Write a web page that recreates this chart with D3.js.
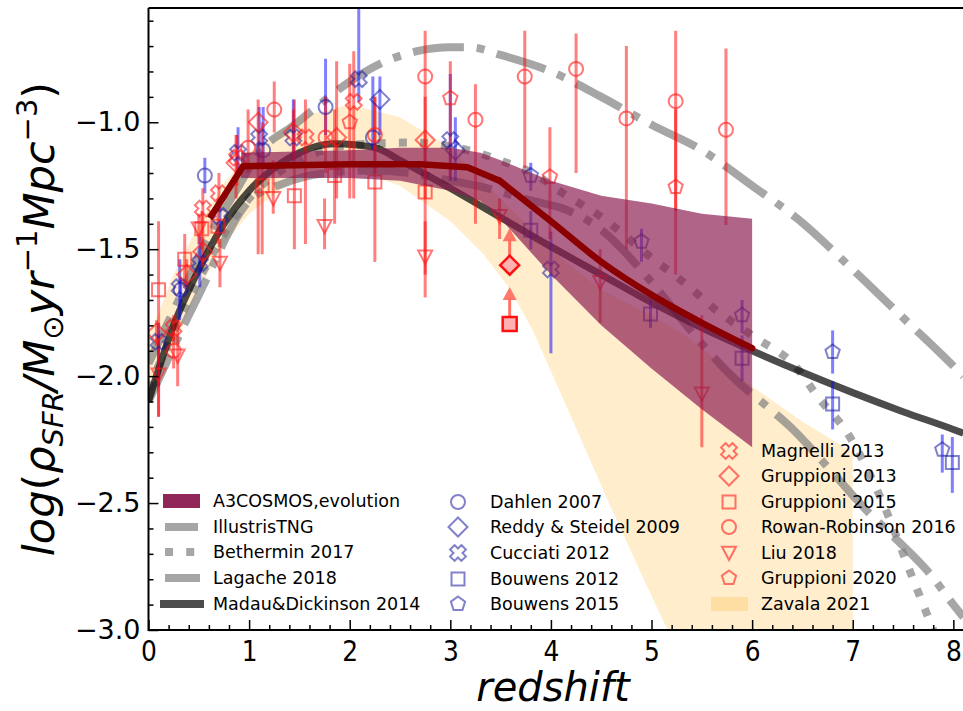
<!DOCTYPE html>
<html><head><meta charset="utf-8">
<script src="https://cdn.jsdelivr.net/npm/d3@7"></script>
<style>body{margin:0;background:#fff}svg{display:block}text{font-family:"DejaVu Sans",sans-serif}</style>
</head><body><svg id="c" width="963" height="711"></svg>
<script>
// ---------------- data ----------------
const xTicks = [0,1,2,3,4,5,6,7,8];
const yTicks = [-3.0,-2.5,-2.0,-1.5,-1.0];

// Zavala 2021 band
const zavHighZ = [0,0.25,0.5,0.75,1.0,1.5,2.0,2.5,3.0,3.5,4.0,4.5,5.0,5.3,6.0,6.5,7.0];
const zavHigh  = [-1.85,-1.6,-1.4,-1.24,-1.12,-0.98,-0.93,-0.98,-1.1,-1.3,-1.5,-1.66,-1.76,-1.83,-2.04,-2.18,-2.3];
const zavLowZ  = [0,0.25,0.5,0.75,1.0,1.5,2.0,2.5,3.0,3.33,3.6,3.82,4.1,4.3,4.6,4.9,5.16,5.4];
const zavLow   = [-2.12,-1.88,-1.66,-1.48,-1.36,-1.21,-1.18,-1.25,-1.39,-1.52,-1.66,-1.82,-2.07,-2.25,-2.52,-2.78,-3.0,-3.2];

// A3COSMOS band + line
const a3Z    = [0.92,2.0,2.5,3.0,3.3,3.5,4.0,4.5,5.0,5.5,6.0];
const a3High = [-1.12,-1.11,-1.10,-1.10,-1.12,-1.15,-1.23,-1.29,-1.32,-1.36,-1.38];
const a3Low  = [-1.22,-1.22,-1.23,-1.27,-1.31,-1.38,-1.6,-1.8,-1.97,-2.13,-2.28];
const a3LineZ = [0.61,0.94,2.0,2.7,3.17,3.49];
const a3LineV = [-1.378,-1.173,-1.165,-1.165,-1.177,-1.23];
const a3TailZ = [3.49,4.0,4.5,5.0,5.5,6.0];
const a3TailV = [-1.23,-1.39,-1.55,-1.68,-1.79,-1.89];

// model curves
const mdZ = [0,0.25,0.5,0.75,1,1.25,1.5,1.85,2.25,2.5,3,3.5,4,4.5,5,5.5,6,6.5,7,7.5,8,8.1];
const mdV = [-2.1,-1.8,-1.58,-1.40,-1.27,-1.18,-1.12,-1.085,-1.10,-1.15,-1.26,-1.375,-1.49,-1.6,-1.71,-1.81,-1.90,-1.985,-2.065,-2.14,-2.21,-2.225];
const tngZ = [0,0.5,1.0,1.35,1.77,2.2,2.6,3.0,3.26,3.82,4.12,4.49,5.0,5.45,5.85,6.15,6.38,6.8,7.14,7.4,7.77,8.0,8.1];
const tngV = [-2.1,-1.68,-1.31,-1.24,-1.2,-1.19,-1.2,-1.23,-1.25,-1.31,-1.34,-1.42,-1.63,-1.85,-2.02,-2.12,-2.2,-2.38,-2.53,-2.63,-2.78,-2.9,-2.95];
const betZ = [0,0.5,1.0,1.5,2.0,2.6,3.27,3.56,3.82,4.12,4.49,5.02,5.38,5.61,6.0,6.45,6.65,6.94,7.3,7.6,7.75,7.85];
const betV = [-2.05,-1.62,-1.3,-1.15,-1.09,-1.08,-1.12,-1.16,-1.2,-1.28,-1.37,-1.54,-1.65,-1.73,-1.84,-1.97,-2.08,-2.22,-2.5,-2.8,-2.95,-3.05];
const lagZ = [0,0.3,0.6,0.9,1.1,1.45,1.7,2.0,2.3,2.67,3.0,3.2,3.5,4.0,4.5,5.0,5.5,6.0,6.45,7.0,7.5,8.0,8.1];
const lagV = [-1.95,-1.7,-1.45,-1.25,-1.12,-1.01,-0.93,-0.84,-0.77,-0.72,-0.705,-0.705,-0.735,-0.80,-0.90,-1.01,-1.11,-1.25,-1.38,-1.58,-1.77,-1.96,-2.0];

// observations [z, value, lower, upper]
const dahlen07 = [[0.32,-1.66,-1.71,-1.61],[0.56,-1.21,-1.28,-1.14],[1.14,-1.11,-1.18,-0.94],[1.76,-0.94,-1.05,-0.75],[2.23,-1.06,-1.11,-0.82]];
const reddy09 = [[2.3,-0.91,-1.05,-0.82],[3.05,-1.11,-1.23,-0.98]];
const cucciati12 = [[0.1,-1.865,-2.04,-1.79],[0.31,-1.65,-1.78,-1.54],[0.51,-1.555,-1.65,-1.45],[0.71,-1.37,-1.44,-1.3],[0.89,-1.12,-1.2,-1.02],[1.1,-1.06,-1.18,-0.94],[1.44,-1.06,-1.18,-0.91],[2.09,-0.83,-0.92,-0.5],[3.0,-1.07,-1.23,-0.81],[4.0,-1.58,-1.91,-1.43]];
const bouwens12 = [[3.8,-1.425,-1.5,-1.35],[4.99,-1.755,-1.81,-1.70],[5.9,-1.93,-2.02,-1.84],[6.8,-2.11,-2.21,-2.02],[7.99,-2.34,-2.46,-2.24]];
const bouwens15 = [[3.8,-1.21,-1.27,-1.16],[4.9,-1.47,-1.55,-1.42],[5.9,-1.76,-1.83,-1.7],[6.8,-1.905,-1.99,-1.82],[7.89,-2.29,-2.38,-2.23]];
const magnelli13 = [[0.25,-1.81,-1.86,-1.76],[0.54,-1.34,-1.44,-1.26],[0.7,-1.28,-1.35,-1.2],[0.88,-1.14,-1.25,-1.05],[1.56,-1.06,-1.48,-0.91],[2.04,-0.92,-1.3,-0.72]];
const gruppioni13 = [[0.08,-1.83,-1.88,-1.78],[0.38,-1.60,-1.66,-1.54],[0.54,-1.51,-1.57,-1.45],[0.87,-1.16,-1.3,-1.05],[1.09,-1.0,-1.52,-0.91],[1.44,-1.04,-1.15,-0.95],[1.87,-1.06,-1.3,-0.76],[2.75,-1.07,-1.3,-0.9]];
const gruppioni15 = [[0.1,-1.66,-2.16,-1.39],[0.36,-1.54,-1.65,-1.44],[0.53,-1.42,-1.5,-1.35],[0.69,-1.41,-1.48,-1.3],[1.13,-1.25,-1.52,-1.0],[1.45,-1.29,-1.5,-0.91],[1.85,-1.21,-1.4,-0.95],[2.25,-1.235,-1.55,-0.9],[2.75,-1.275,-1.6,-1.0]];
const rowan16 = [[0.25,-1.90,-1.97,-1.83],[0.99,-1.10,-1.2,-0.95],[1.25,-0.95,-1.04,-0.84],[1.76,-1.06,-1.2,-0.9],[2.25,-1.05,-1.2,-0.9],[2.75,-0.82,-1.0,-0.64],[3.25,-0.99,-1.4,-0.85],[3.74,-0.82,-1.18,-0.64],[4.25,-0.79,-1.2,-0.65],[4.75,-0.985,-1.5,-0.7],[5.24,-0.917,-1.35,-0.64],[5.74,-1.03,-1.405,-0.71]];
const liu18 = [[0.1,-1.995,-2.16,-1.85],[0.29,-1.92,-2.04,-1.78],[0.5,-1.42,-1.48,-1.36],[0.71,-1.555,-1.65,-1.46],[1.24,-1.30,-1.36,-1.15],[1.75,-1.41,-1.5,-1.3],[2.75,-1.53,-1.69,-1.39],[3.49,-1.37,-1.46,-1.3],[4.49,-1.63,-1.79,-1.5],[5.5,-2.07,-2.28,-1.76]];
const gruppioni20 = [[2.0,-1.0,-1.3,-0.77],[3.0,-0.905,-1.22,-0.76],[3.99,-1.215,-1.46,-1.02],[5.24,-1.255,-1.6,-0.95]];
const lowerLimits = [[3.59,-1.563,"diamond"],[3.59,-1.795,"square"]];

const lineLegend = ["A3COSMOS,evolution","IllustrisTNG","Bethermin 2017","Lagache 2018","Madau&Dickinson 2014"];
const blueLegend = ["Dahlen 2007","Reddy & Steidel 2009","Cucciati 2012","Bouwens 2012","Bouwens 2015"];
const redLegend  = ["Magnelli 2013","Gruppioni 2013","Gruppioni 2015","Rowan-Robinson 2016","Liu 2018","Gruppioni 2020","Zavala 2021"];

// ---------------- drawing ----------------
const svg = d3.select("#c");
const L=148.5, R=963.4, T=8, B=630;
const x = d3.scaleLinear().domain([0,8.1]).range([L,R]);
const y = d3.scaleLinear().domain([-3.0,-0.55]).range([B,T]);

svg.append("defs").append("clipPath").attr("id","clip").append("rect")
  .attr("x",L).attr("y",T).attr("width",R-L).attr("height",B-T);
const plot = svg.append("g").attr("clip-path","url(#clip)");

const zip = (zs,vs)=>zs.map((z,i)=>[z,vs[i]]);
const line = d3.line().x(d=>x(d[0])).y(d=>y(d[1])).curve(d3.curveMonotoneX);
const lineLin = d3.line().x(d=>x(d[0])).y(d=>y(d[1]));

// Zavala band
const zavPoly = zip(zavHighZ,zavHigh).concat([[7.0,-3.3]]).concat(zip(zavLowZ,zavLow).reverse());
plot.append("path").attr("d",lineLin(zavPoly)+"Z").attr("fill","#ffa500").attr("fill-opacity",0.2);

// gray model lines
const gray = (pts,dash)=>plot.append("path").attr("d",line(pts)).attr("fill","none")
  .attr("stroke","#808080").attr("stroke-opacity",0.7).attr("stroke-width",8)
  .attr("stroke-dasharray",dash);
gray(zip(tngZ,tngV),"51.2,12.8,8,12.8");
gray(zip(betZ,betV),"8,13.2");
gray(zip(lagZ,lagV),"51.2,12.8,8,12.8");

// Madau
plot.append("path").attr("d",line(zip(mdZ,mdV))).attr("fill","none")
  .attr("stroke","#000").attr("stroke-opacity",0.7).attr("stroke-width",7);

// symbols
const sym = {
  circle:(r)=>{const p=d3.path();p.arc(0,0,r,0,2*Math.PI);p.closePath();return p.toString();},
  square:(r)=>`M${-r},${-r}H${r}V${r}H${-r}Z`,
  diamond:(r)=>`M0,${-r}L${r},0L0,${r}L${-r},0Z`,
  tri:(r)=>`M0,${r}L${-r},${-r*0.9}L${r},${-r*0.9}Z`,
  pent:(r)=>{const p=d3.path();for(let k=0;k<5;k++){const a=-Math.PI/2+k*2*Math.PI/5;const px=r*Math.cos(a),py=r*Math.sin(a);k?p.lineTo(px,py):p.moveTo(px,py);}p.closePath();return p.toString();},
  xx:(r)=>{const w=r*0.4;const pts=[[-w,-r],[w,-r],[w,-w],[r,-w],[r,w],[w,w],[w,r],[-w,r],[-w,w],[-r,w],[-r,-w],[-w,-w]];
    const c=Math.SQRT1_2;return "M"+pts.map(([a,b])=>[(a-b)*c,(a+b)*c].join(",")).join("L")+"Z";}
};
const symR = {circle:7,square:6.5,diamond:9.5,tri:7,pent:7.5,xx:8};
const blueC="#1a1aa0", redC="#ff1a1a";
const sets = [
  [dahlen07,"circle","b"],[reddy09,"diamond","b"],[cucciati12,"xx","b"],[bouwens12,"square","b"],[bouwens15,"pent","b"],
  [magnelli13,"xx","r"],[gruppioni13,"diamond","r"],[gruppioni15,"square","r"],[rowan16,"circle","r"],[liu18,"tri","r"],[gruppioni20,"pent","r"]
];
const obs = plot.append("g");
sets.forEach(([data,shape,c])=>{
  obs.selectAll(null).data(data).enter().append("line")
    .attr("x1",d=>x(d[0])).attr("x2",d=>x(d[0])).attr("y1",d=>y(d[2])).attr("y2",d=>y(d[3]))
    .attr("stroke",c==="b"?"#0000ff":"#ff0000").attr("stroke-opacity",0.5).attr("stroke-width",3);
});
sets.forEach(([data,shape,c])=>{
  obs.selectAll(null).data(data).enter().append("path")
    .attr("d",sym[shape](symR[shape])).attr("transform",d=>`translate(${x(d[0])},${y(d[1])})`)
    .attr("fill","none").attr("stroke",c==="b"?blueC:redC).attr("stroke-opacity",c==="b"?0.55:0.6).attr("stroke-width",2);
});
// lower limits with arrows
lowerLimits.forEach(([z,v,shape])=>{
  const cx=x(z), cy=y(v);
  obs.append("line").attr("x1",cx).attr("x2",cx).attr("y1",cy-6).attr("y2",cy-26)
    .attr("stroke","#ff5a4a").attr("stroke-opacity",0.85).attr("stroke-width",3);
  obs.append("path").attr("d",`M${cx-7},${cy-24}L${cx},${cy-37}L${cx+7},${cy-24}Z`).attr("fill","#ff6a5a").attr("fill-opacity",0.9);
  obs.append("path").attr("d",sym[shape](shape==="diamond"?9.5:7)).attr("transform",`translate(${cx},${cy})`)
    .attr("fill","#ffb0b0").attr("stroke","#ff1010").attr("stroke-width",2.5);
});

// A3COSMOS band
const a3Poly = zip(a3Z,a3High).concat(zip(a3Z,a3Low).reverse());
plot.append("path").attr("d",lineLin(a3Poly)+"Z").attr("fill","#8b1a4f").attr("fill-opacity",0.68);
// A3 line
plot.append("path").attr("d",lineLin(zip(a3LineZ,a3LineV))).attr("fill","none")
  .attr("stroke","#8b0000").attr("stroke-width",6.5).attr("stroke-linejoin","round");
plot.append("path").attr("d",line(zip(a3TailZ,a3TailV))).attr("fill","none")
  .attr("stroke","#8b0000").attr("stroke-width",6.5).attr("stroke-linecap","round");

// ---------------- axes ----------------
const ax = svg.append("g").attr("font-family","DejaVu Sans");
const xMinor = d3.range(0,8.11,0.2).filter(v=>Math.abs(v-Math.round(v))>1e-6);
const yMinor = d3.range(-3.0,-0.55,0.1).filter(v=>Math.abs(v*2-Math.round(v*2))>1e-6);
const gxMaj = ax.append("g").attr("transform",`translate(0,${B})`)
  .call(d3.axisBottom(x).tickValues(xTicks).tickSizeInner(-10).tickSizeOuter(0).tickPadding(10).tickFormat(d3.format("d")));
ax.append("g").attr("transform",`translate(0,${B})`)
  .call(d3.axisBottom(x).tickValues(xMinor).tickSizeInner(-5).tickSizeOuter(0).tickFormat(""));
const gyMaj = ax.append("g").attr("transform",`translate(${L},0)`)
  .call(d3.axisLeft(y).tickValues(yTicks).tickSizeInner(-10).tickSizeOuter(0).tickPadding(8).tickFormat(d3.format(".1f")));
ax.append("g").attr("transform",`translate(${L},0)`)
  .call(d3.axisLeft(y).tickValues(yMinor).tickSizeInner(-5).tickSizeOuter(0).tickFormat(""));
ax.selectAll(".domain").remove();
ax.selectAll(".tick line").attr("stroke","#000").attr("stroke-width",1.5);
gxMaj.selectAll("text").attr("font-size",29).attr("fill","#000").attr("font-family","DejaVu Sans").attr("transform","scale(0.86,1)");
gyMaj.selectAll("text").attr("font-size",27).attr("fill","#000").attr("font-family","DejaVu Sans");
// spines
svg.append("path").attr("d",`M${L},${T}V${B}H${R+2}`).attr("fill","none").attr("stroke","#000").attr("stroke-width",2);
svg.append("path").attr("d",`M${L},${T}H${R+2}`).attr("fill","none").attr("stroke","#000").attr("stroke-width",2);

// axis labels
svg.append("text").attr("x",(L+R)/2-3).attr("y",701).attr("text-anchor","middle")
  .attr("font-size",40).attr("font-style","italic").text("redshift");
const yl = svg.append("text").attr("transform",`translate(54,${(T+B)/2}) rotate(-90)`)
  .attr("text-anchor","middle").attr("font-size",43).attr("font-style","italic");
yl.append("tspan").text("log");
yl.append("tspan").attr("font-style","normal").text("(");
yl.append("tspan").text("ρ");
yl.append("tspan").attr("font-size",29).attr("dy",9).text("SFR");
yl.append("tspan").attr("dy",-9).text("/M");
yl.append("tspan").attr("font-size",29).attr("dy",9).attr("font-style","normal").text("⊙");
yl.append("tspan").attr("dy",-9).text("yr");
yl.append("tspan").attr("font-size",29).attr("dy",-17).attr("font-style","normal").text("−1");
yl.append("tspan").attr("dy",17).text("Mpc");
yl.append("tspan").attr("font-size",29).attr("dy",-17).attr("font-style","normal").text("−3");
yl.append("tspan").attr("dy",17).attr("font-style","normal").text(")");

// ---------------- legends ----------------
const lg = svg.append("g").attr("font-size",17.5);
const rowY1 = [501,527,552,578,604];
// left legend
lg.append("rect").attr("x",163).attr("y",rowY1[0]-7).attr("width",37).attr("height",14).attr("fill","#8b1a4f").attr("fill-opacity",0.95);
[[1,null],[2,"8,13.2"],[3,null]].forEach(([i,d])=>{
  lg.append("line").attr("x1",165).attr("x2",i===2?202:(i===1?198:200)).attr("y1",rowY1[i]).attr("y2",rowY1[i])
   .attr("stroke","#808080").attr("stroke-opacity",0.7).attr("stroke-width",8).attr("stroke-dasharray",d);
});
lg.append("line").attr("x1",160).attr("x2",204).attr("y1",rowY1[4]).attr("y2",rowY1[4]).attr("stroke","#000").attr("stroke-opacity",0.7).attr("stroke-width",8);
lineLegend.forEach((t,i)=>lg.append("text").attr("x",213).attr("y",rowY1[i]).attr("dy","0.35em").text(t));
// blue legend
const blueShapes=["circle","diamond","xx","square","pent"];
const rowY2=[502,527,553,579,604];
blueLegend.forEach((t,i)=>{
  lg.append("path").attr("d",sym[blueShapes[i]](symR[blueShapes[i]])).attr("transform",`translate(458,${rowY2[i]})`)
    .attr("fill","none").attr("stroke",blueC).attr("stroke-opacity",0.55).attr("stroke-width",2);
  lg.append("text").attr("x",490).attr("y",rowY2[i]).attr("dy","0.35em").text(t);
});
// red legend
const redShapes=["xx","diamond","square","circle","tri","pent"];
const rowY3=[451,476,502,527,553,578,604];
redLegend.forEach((t,i)=>{
  if(i<6){
    lg.append("path").attr("d",sym[redShapes[i]](symR[redShapes[i]])).attr("transform",`translate(729,${rowY3[i]})`)
      .attr("fill","none").attr("stroke",redC).attr("stroke-opacity",0.6).attr("stroke-width",2);
  } else {
    lg.append("rect").attr("x",711).attr("y",rowY3[i]-7).attr("width",37).attr("height",14).attr("fill","#ffa500").attr("fill-opacity",0.2);
  }
  lg.append("text").attr("x",761).attr("y",rowY3[i]).attr("dy","0.35em").text(t);
});
</script></body></html>
